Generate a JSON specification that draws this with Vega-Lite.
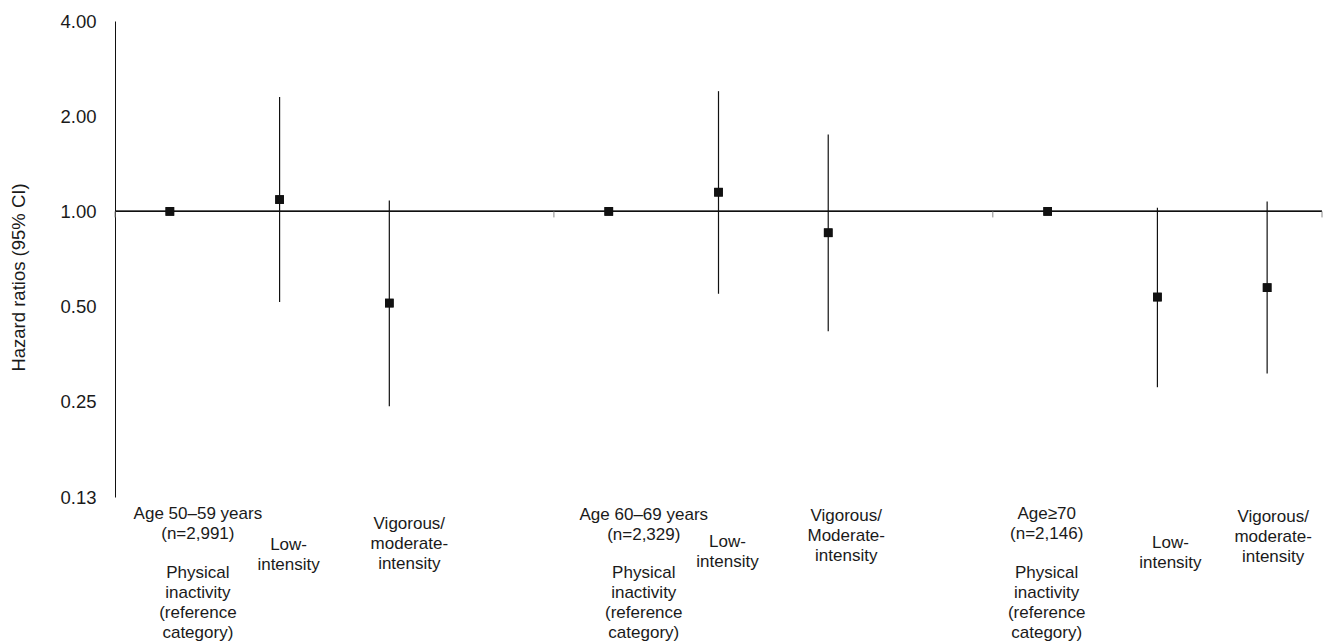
{
  "$schema": "https://vega.github.io/schema/vega-lite/v6.json",
  "width": 1207,
  "height": 476,
  "autosize": {"type": "none"},
  "padding": {"left": 115, "top": 21, "right": 10, "bottom": 146},
  "background": "white",
  "config": {"view": {"stroke": null}, "font": "Liberation Sans"},
  "resolve": {"axis": {"x": "independent"}},
  "datasets": {
    "hr": [
      {"cat": "g1_ref", "hr": 1.0, "lo": null, "hi": null},
      {"cat": "g1_low", "hr": 1.09, "lo": 0.517, "hi": 2.3},
      {"cat": "g1_vig", "hr": 0.513, "lo": 0.242, "hi": 1.083},
      {"cat": "g2_ref", "hr": 1.0, "lo": null, "hi": null},
      {"cat": "g2_low", "hr": 1.15, "lo": 0.549, "hi": 2.4},
      {"cat": "g2_vig", "hr": 0.856, "lo": 0.418, "hi": 1.75},
      {"cat": "g3_ref", "hr": 1.0, "lo": null, "hi": null},
      {"cat": "g3_low", "hr": 0.536, "lo": 0.278, "hi": 1.027},
      {"cat": "g3_vig", "hr": 0.574, "lo": 0.307, "hi": 1.075}
    ],
    "ticks": [{"cat": "g1_ref"}, {"cat": "g2_ref"}, {"cat": "g3_ref"}],
    "endtick": [{"cat": "g3_vig"}]
  },
  "layer": [
    {
      "data": {"name": "hr"},
      "mark": {"type": "point", "shape": "square", "filled": true, "size": 75, "color": "#111111", "opacity": 1},
      "encoding": {
        "x": {
          "field": "cat",
          "type": "nominal",
          "sort": null,
          "scale": {
            "type": "band",
            "domain": ["g1_ref", "g1_low", "g1_vig", "gap1", "g2_ref", "g2_low", "g2_vig", "gap2", "g3_ref", "g3_low", "g3_vig"],
            "paddingInner": 0,
            "paddingOuter": 0
          },
          "axis": {
            "orient": "bottom",
            "values": ["g1_ref", "g1_low", "g1_vig", "g2_ref", "g2_low", "g2_vig", "g3_ref", "g3_low", "g3_vig"],
            "title": null,
            "domain": false,
            "ticks": false,
            "grid": false,
            "labelAngle": 0,
            "labelAlign": "center",
            "labelBaseline": "top",
            "labelFontSize": 17,
            "labelLineHeight": 20,
            "labelColor": "#1a1a1a",
            "labelOverlap": false,
            "labelBound": false,
            "labelFlush": false,
            "labelLimit": 400,
            "labelExpr": "datum.value == 'g1_ref' ? ['Age 50–59  years', '(n=2,991)'] : datum.value == 'g2_ref' ? ['Age 60–69 years', '(n=2,329)'] : datum.value == 'g3_ref' ? ['Age≥70', '(n=2,146)'] : (datum.value == 'g1_low' || datum.value == 'g2_low' || datum.value == 'g3_low') ? ['Low-', 'intensity'] : datum.value == 'g2_vig' ? ['Vigorous/', 'Moderate-', 'intensity'] : ['Vigorous/', 'moderate-', 'intensity']",
            "labelPadding": {
              "condition": [
                {"test": "datum.value == 'g2_ref'", "value": 9},
                {"test": "datum.value == 'g1_low'", "value": 39},
                {"test": "datum.value == 'g2_low'", "value": 36},
                {"test": "datum.value == 'g3_low'", "value": 37},
                {"test": "datum.value == 'g1_vig'", "value": 18},
                {"test": "datum.value == 'g2_vig'", "value": 10},
                {"test": "datum.value == 'g3_vig'", "value": 11}
              ],
              "value": 8
            },
            "labelOffset": {
              "condition": [
                {"test": "datum.value == 'g1_ref'", "value": 28},
                {"test": "datum.value == 'g2_ref'", "value": 35},
                {"test": "datum.value == 'g3_ref'", "value": -1},
                {"test": "datum.value == 'g1_low'", "value": 9},
                {"test": "datum.value == 'g2_low'", "value": 9},
                {"test": "datum.value == 'g3_low'", "value": 13},
                {"test": "datum.value == 'g1_vig'", "value": 20},
                {"test": "datum.value == 'g2_vig'", "value": 18},
                {"test": "datum.value == 'g3_vig'", "value": 6}
              ],
              "value": 0
            }
          }
        },
        "y": {
          "field": "hr",
          "type": "quantitative",
          "scale": {"type": "log", "base": 2, "domain": [0.125, 4], "nice": false, "zero": false},
          "axis": {
            "orient": "left",
            "values": [0.125, 0.25, 0.5, 1, 2, 4],
            "format": ".2f",
            "ticks": false,
            "grid": false,
            "domain": true,
            "domainColor": "#111111",
            "domainWidth": 1,
            "labelFontSize": 18.5,
            "labelColor": "#1a1a1a",
            "labelPadding": 19,
            "labelFlush": false,
            "labelOverlap": false,
            "title": "Hazard ratios (95% CI)",
            "titleFontSize": 18.5,
            "titleFontWeight": "normal",
            "titleColor": "#1a1a1a",
            "titleAngle": 270,
            "titleAlign": "center",
            "titleBaseline": "middle",
            "titleX": -97,
            "titleY": 256
          }
        }
      }
    },
    {
      "data": {"name": "hr"},
      "mark": {"type": "rule", "color": "#111111", "strokeWidth": 1},
      "encoding": {
        "y": {"datum": 1, "type": "quantitative"}
      }
    },
    {
      "data": {"name": "ticks"},
      "mark": {"type": "rule", "color": "#8a8a8a", "strokeWidth": 1},
      "encoding": {
        "x": {"field": "cat", "type": "nominal", "bandPosition": 0, "axis": null},
        "y": {"datum": 1, "type": "quantitative"},
        "y2": {"datum": 0.957}
      }
    },
    {
      "data": {"name": "endtick"},
      "mark": {"type": "rule", "color": "#8a8a8a", "strokeWidth": 1},
      "encoding": {
        "x": {"field": "cat", "type": "nominal", "bandPosition": 1, "axis": null},
        "y": {"datum": 1, "type": "quantitative"},
        "y2": {"datum": 0.957}
      }
    },
    {
      "data": {"name": "hr"},
      "transform": [{"filter": "isValid(datum.lo)"}],
      "mark": {"type": "rule", "color": "#111111", "strokeWidth": 1.2},
      "encoding": {
        "x": {"field": "cat", "type": "nominal", "axis": null},
        "y": {"field": "lo", "type": "quantitative"},
        "y2": {"field": "hi"}
      }
    },
    {
      "data": {"name": "hr"},
      "mark": {"type": "point", "shape": "square", "filled": true, "size": 75, "color": "#111111", "opacity": 1},
      "encoding": {
        "x": {
          "field": "cat",
          "type": "nominal",
          "axis": {
            "orient": "bottom",
            "values": ["g1_ref", "g2_ref", "g3_ref"],
            "title": null,
            "domain": false,
            "ticks": false,
            "grid": false,
            "labelAngle": 0,
            "labelAlign": "center",
            "labelBaseline": "top",
            "labelFontSize": 17,
            "labelLineHeight": 20,
            "labelColor": "#1a1a1a",
            "labelOverlap": false,
            "labelBound": false,
            "labelFlush": false,
            "labelLimit": 400,
            "labelExpr": "['Physical', 'inactivity', '(reference', 'category)']",
            "labelPadding": 67,
            "labelOffset": {
              "condition": [
                {"test": "datum.value == 'g1_ref'", "value": 28},
                {"test": "datum.value == 'g2_ref'", "value": 35}
              ],
              "value": -1
            }
          }
        },
        "y": {"field": "hr", "type": "quantitative"}
      }
    }
  ]
}
